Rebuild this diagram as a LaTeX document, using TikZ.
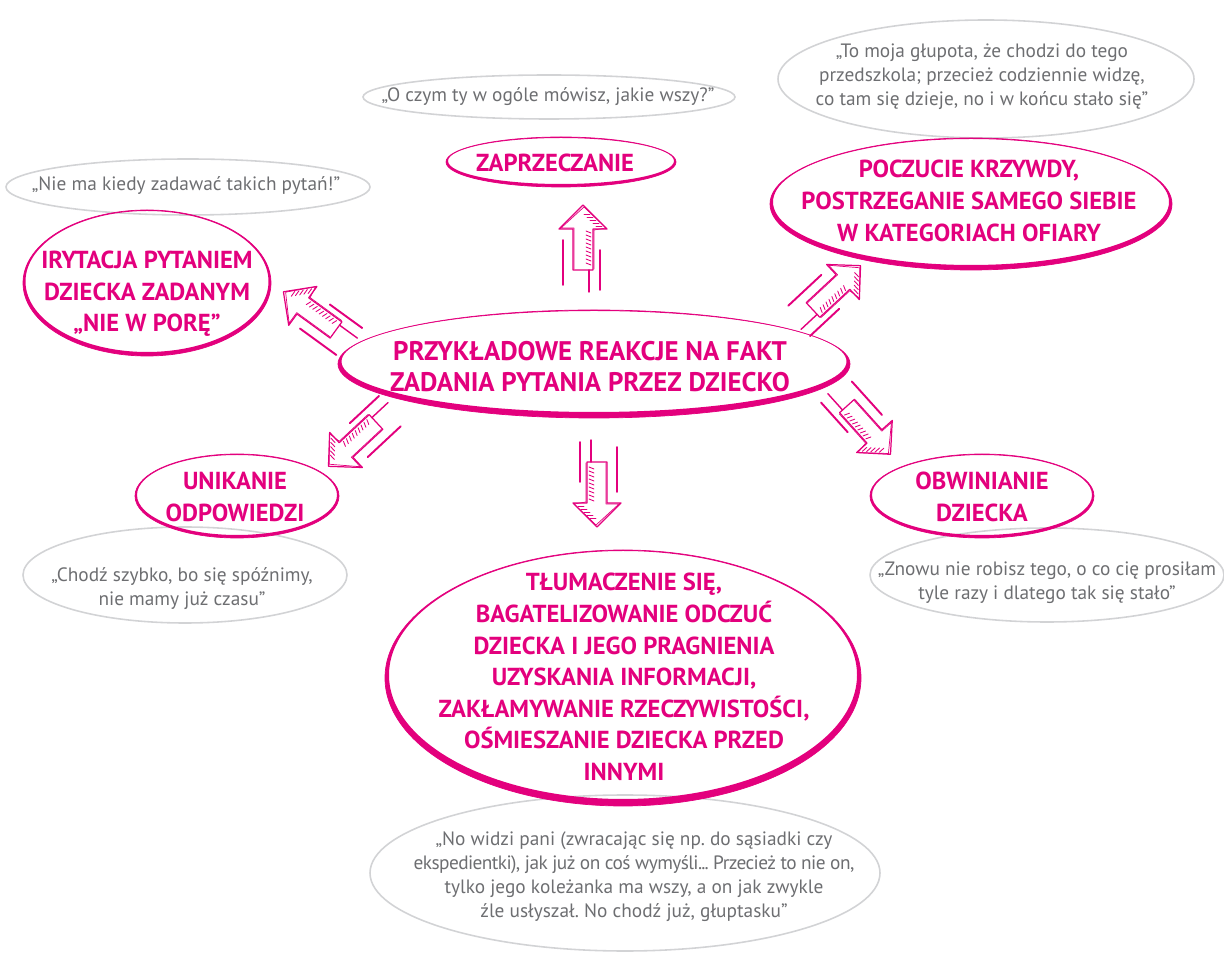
\documentclass[tikz,border=0pt]{standalone}
\usepackage{fontspec}
\setmainfont{PT Sans}
\usetikzlibrary{positioning}
\definecolor{brushpink}{HTML}{E3007D}
\definecolor{quotegray}{HTML}{6D6E71}
\definecolor{ringgray}{HTML}{D2D3D5}
\frenchspacing
\tikzset{
  reaction/.style={
    text = brushpink,
    font = \fontsize{14}{18}\selectfont\bfseries,
    align = center,
    inner sep = 0pt
  },
  title/.style={
    reaction,
    font = \fontsize{15.3}{17.6}\selectfont\bfseries
  },
  quote/.style={
    text = quotegray,
    font = \fontsize{11}{13.6}\selectfont,
    align = center,
    inner sep = 0pt
  },
  ring/.style={
    draw = ringgray,
    line width = 0.9pt
  },
  brush/.style={
    fill = brushpink,
    even odd rule
  },
  sketch/.style={
    draw = brushpink,
    line width = 0.7pt,
    line join = round,
    line cap = round
  }
}
% brush ellipse: cx, cy, rx, ry, stroke width (px)
\newcommand{\Brush}[5]{%
  \fill[brush] (#1,#2) ellipse ({#3} and {#4})
               (#1,{#2-#5/2+1}) ellipse ({#3-#5/2} and {#4-#5/2});
  \draw[brushpink, line width=0.4pt] (#1,#2) ellipse ({#3} and {#4});
}
% hand drawn arrow: tail x, tail y, angle
\newcommand{\Sketcharrow}[3]{%
  \begin{scope}[shift={(#1,#2)}, rotate=#3]
    \draw[sketch] (0,-10) -- (41,-10) -- (41,-24) -- (65,0) -- (41,24) -- (41,10) -- (0,10) -- cycle;
    \draw[sketch, line width=0.4pt] (1,-9) -- (42,-9) -- (42,-22) -- (63,1) -- (42,23) -- (40,11) -- (1,11);
    \foreach \i in {0,...,8}
      \draw[sketch, line width=0.5pt] ({5+\i*4},8) -- ({7+\i*4},3);
    \foreach \i in {0,...,4}
      \draw[sketch, line width=0.5pt] ({44+\i*3},{19-\i*3}) -- ({44+\i*3},{13-\i*3});
    \draw[sketch, line width=1.1pt] (-15,-20) -- (30,-20);
    \draw[sketch, line width=1.1pt] (-20,17) -- (20,17);
    \draw[sketch, line width=0.8pt] (-22,6) -- (0,6);
  \end{scope}
}

\begin{document}
\begin{tikzpicture}[x=0.02cm, y=-0.02cm]
    \useasboundingbox (0,0) rectangle (1224,955);

    % quotes
    \draw[ring] (549,97) ellipse (186 and 22);
    \draw[ring] (986,79) ellipse (208 and 59);
    \draw[ring] (188,187) ellipse (182 and 28);
    \draw[ring] (185,575) ellipse (162 and 48);
    \draw[ring] (1047,575) ellipse (177 and 47);
    \draw[ring] (625,873) ellipse (255 and 78);

    \node[quote] (qdeny) at (548,97) {„O czym ty w ogóle mówisz, jakie wszy?”};
    \node[quote] (qvictim) at (982,77) {„To moja głupota, że chodzi do tego\\przedszkola; przecież codziennie widzę,\\co tam się dzieje, no i w końcu stało się”};
    \node[quote] (qirritate) at (186,186) {„Nie ma kiedy zadawać takich pytań!”};
    \node[quote] (qavoid) at (182,589) {„Chodź szybko, bo się spóźnimy,\\nie mamy już czasu”};
    \node[quote] (qblame) at (1047,583) {„Znowu nie robisz tego, o co cię prosiłam\\tyle razy i dlatego tak się stało”};
    \node[quote] (qexcuse) at (634,877) {„No widzi pani (zwracając się np. do sąsiadki czy\\{\addfontfeature{LetterSpace=-3}ekspedientki), jak już on coś wymyśli.\kern-.5pt.\kern-.5pt. Przecież to nie on,}\\tylko jego koleżanka ma wszy, a on jak zwykle\\źle usłyszał. No chodź już, głuptasku”};

    % reactions
    \Brush{594}{364}{256}{54}{7}
    \Brush{561}{162}{115}{25}{4}
    \Brush{971}{204}{201}{66}{6}
    \Brush{147}{283}{124}{73}{5}
    \Brush{237}{496}{102}{42}{4}
    \Brush{982}{496}{112}{42}{4}
    \Brush{623}{678}{238}{128}{8}

    \node[title] (central) at (590,367) {PRZYKŁADOWE REAKCJE NA FAKT\\ZADANIA PYTANIA PRZEZ DZIECKO};
    \node[reaction] (deny) at (555,163) {ZAPRZECZANIE};
    \node[reaction] (victim) at (969,201) {POCZUCIE KRZYWDY,\\POSTRZEGANIE SAMEGO SIEBIE\\W KATEGORIACH OFIARY};
    \node[reaction] (irritate) at (147,294) {IRYTACJA PYTANIEM\\DZIECKA ZADANYM\\„NIE W PORĘ”};
    \node[reaction] (avoid) at (235,497) {UNIKANIE\\ODPOWIEDZI};
    \node[reaction] (blame) at (982,497) {OBWINIANIE\\DZIECKA};
    \node[reaction] (excuse) at (624,677) {TŁUMACZENIE SIĘ,\\BAGATELIZOWANIE ODCZUĆ\\DZIECKA I JEGO PRAGNIENIA\\UZYSKANIA INFORMACJI,\\ZAKŁAMYWANIE RZECZYWISTOŚCI,\\OŚMIESZANIE DZIECKA PRZED\\INNYMI};

    % arrows
    \Sketcharrow{583}{270}{90}
    \Sketcharrow{336}{330}{144}
    \Sketcharrow{813}{310}{43}
    \Sketcharrow{376}{422}{223}
    \Sketcharrow{847}{406}{-48}
    \Sketcharrow{597}{462}{-90}
\end{tikzpicture}
\end{document}
